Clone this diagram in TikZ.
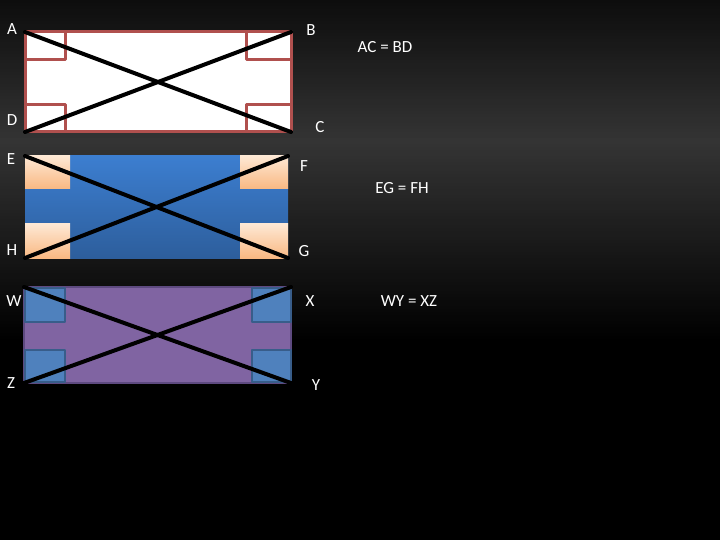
\documentclass[tikz,border=0pt]{standalone}
\usepackage{fontspec}
\setmainfont{Carlito}
\usepackage{tikz}
\usetikzlibrary{backgrounds}
\definecolor{bgmid}{HTML}{343434}
\definecolor{redline}{HTML}{B0504E}
\definecolor{blueTop}{HTML}{3C7ED0}
\definecolor{blueBot}{HTML}{2D5E9C}
\definecolor{peachTop}{HTML}{FEE8D4}
\definecolor{peachBot}{HTML}{F9B882}
\definecolor{purp}{HTML}{8064A2}
\definecolor{purpline}{HTML}{5E4A80}
\definecolor{sqblue}{HTML}{4F81BD}
\definecolor{sqline}{HTML}{385D8A}

\begin{document}
\begin{tikzpicture}[x=1pt,y=-1pt,join=round,
  lbl/.style={text=white,font=\fontsize{17}{20}\selectfont,inner sep=0pt},
  diag/.style={draw=black,line width=4pt,line cap=round}]
\useasboundingbox (0,0) rectangle (720,540);
\fill[black] (0,0) rectangle (720,540);
\foreach \y in {0,3,...,339}{
  \pgfmathsetmacro\t{\y<140 ? 25+0.5357*\y : (340-\y)/2}
  \fill[bgmid!\t!black] (0,\y) rectangle (720,\y+3.3);
}

\coordinate (A) at (25,32);
\coordinate (B) at (291,32);
\coordinate (C) at (291,132);
\coordinate (D) at (25,132);
\filldraw[fill=white,draw=redline,line width=3pt] (A) rectangle (C);
\filldraw[fill=white,draw=redline,line width=3pt] (25,32) rectangle (65,60);
\filldraw[fill=white,draw=redline,line width=3pt] (246,32) rectangle (291,60);
\filldraw[fill=white,draw=redline,line width=3pt] (25,105) rectangle (65,132);
\filldraw[fill=white,draw=redline,line width=3pt] (246,105) rectangle (291,132);
\draw[diag] (A)--(C);
\draw[diag] (B)--(D);

\coordinate (E) at (25,156);
\coordinate (F) at (288,156);
\coordinate (G) at (288,258);
\coordinate (H) at (25,258);
\shade[top color=blueTop,bottom color=blueBot] (E) rectangle (G);
\shade[top color=peachTop,bottom color=peachBot] (25,156) rectangle (70,189);
\shade[top color=peachTop,bottom color=peachBot] (240,156) rectangle (288,189);
\shade[top color=peachTop,bottom color=peachBot] (25,224) rectangle (70,258);
\shade[top color=peachTop,bottom color=peachBot] (240,224) rectangle (288,258);
\draw[diag] (E)--(G);
\draw[diag] (F)--(H);

\coordinate (W) at (24,287);
\coordinate (X) at (291,287);
\coordinate (Y) at (291,383);
\coordinate (Z) at (24,383);
\filldraw[fill=purp,draw=purpline,line width=2pt] (W) rectangle (Y);
\filldraw[fill=sqblue,draw=sqline,line width=2pt] (25,288) rectangle (65,322);
\filldraw[fill=sqblue,draw=sqline,line width=2pt] (252,288) rectangle (291,322);
\filldraw[fill=sqblue,draw=sqline,line width=2pt] (25,350) rectangle (65,382);
\filldraw[fill=sqblue,draw=sqline,line width=2pt] (252,350) rectangle (291,382);
\draw[diag] (W)--(Y);
\draw[diag] (X)--(Z);

\node[lbl] (lA) at (12,29) {A};
\node[lbl] (lB) at (311,30) {B};
\node[lbl] (lC) at (320,127) {C};
\node[lbl] (lD) at (12,120) {D};
\node[lbl] (lE) at (11,159) {E};
\node[lbl] (lF) at (304,166) {F};
\node[lbl] (lG) at (304,251) {G};
\node[lbl] (lH) at (12,250) {H};
\node[lbl] (lW) at (14,301) {W};
\node[lbl] (lX) at (310,301) {X};
\node[lbl] (lY) at (316,385) {Y};
\node[lbl] (lZ) at (11,383) {Z};
\node[lbl] (eq1) at (385,47) {AC = BD};
\node[lbl] (eq2) at (402,188) {EG = FH};
\node[lbl] (eq3) at (409,301) {WY = XZ};
\end{tikzpicture}
\end{document}
